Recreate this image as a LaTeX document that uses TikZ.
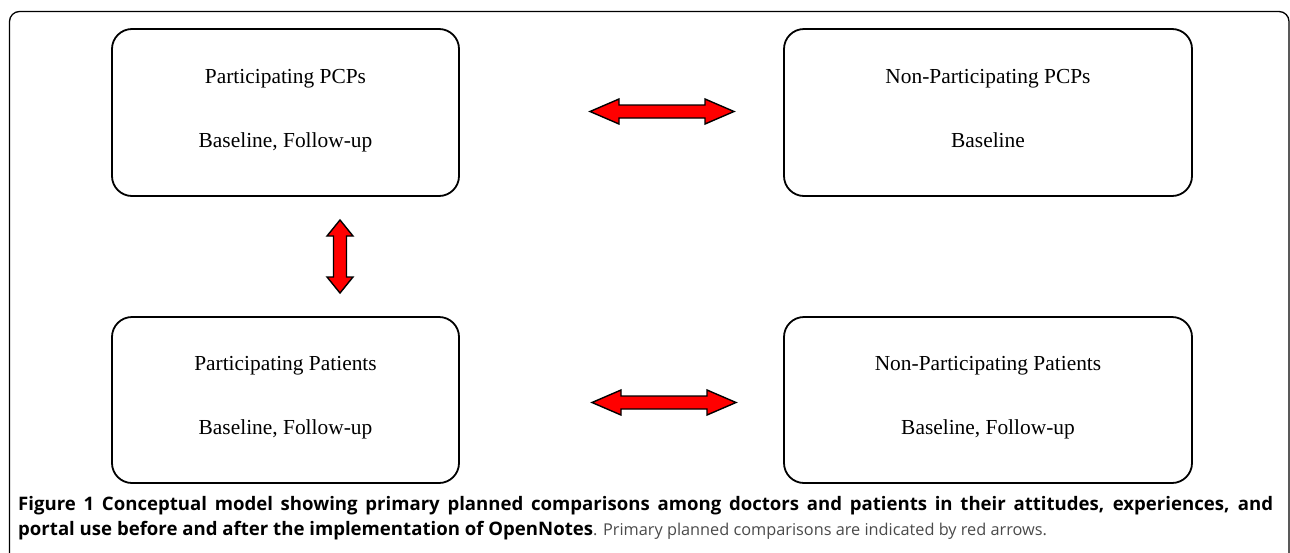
\documentclass[tikz,border=0pt]{standalone}
\usepackage{fontspec}
\setmainfont{Liberation Serif}
\newfontfamily\capfont{Open Sans}
\usetikzlibrary{calc}
\definecolor{capgray}{HTML}{4a4a4a}
\begin{document}
\begin{tikzpicture}[x=1pt,y=-1pt,
  box/.style={draw, line width=1.8pt, rounded corners=20pt, inner sep=0pt},
  lbl/.style={anchor=base, inner sep=0pt, font=\fontsize{21.4}{24}\selectfont},
  redarrow/.style={fill=red, draw=black, line width=1.4pt, line join=miter},
  outerframe/.style={draw, line width=1.3pt, rounded corners=10pt},
  capline/.style={anchor=base west, inner sep=0pt, font=\capfont\fontsize{18.6}{20}\selectfont}]
\useasboundingbox (0,0) rectangle (1290,552);
% outer frame
\draw[outerframe] (9.5,560) -- (9.5,11.5) -- (1289,11.5) -- (1289,560);
% boxes
\node[box, minimum width=347pt, minimum height=167pt] (tl) at (285.5,112.5) {};
\node[box, minimum width=408pt, minimum height=167pt] (tr) at (988,112.5) {};
\node[box, minimum width=347pt, minimum height=166pt] (bl) at (285.5,400) {};
\node[box, minimum width=408pt, minimum height=166pt] (br) at (988,400) {};
% labels
\node[lbl] (tl1) at ($(tl.center)+(0,-29.5)$) {Participating PCPs};
\node[lbl] (tl2) at ($(tl.center)+(0,34.5)$) {Baseline, Follow-up};
\node[lbl] (tr1) at ($(tr.center)+(0,-29.5)$) {Non-Participating PCPs};
\node[lbl] (tr2) at ($(tr.center)+(0,34.5)$) {Baseline};
\node[lbl] (bl1) at ($(bl.center)+(0,-30)$) {Participating Patients};
\node[lbl] (bl2) at ($(bl.center)+(0,34)$) {Baseline, Follow-up};
\node[lbl] (br1) at ($(br.center)+(0,-30)$) {Non-Participating Patients};
\node[lbl] (br2) at ($(br.center)+(0,34)$) {Baseline, Follow-up};
% arrow centres
\coordinate (hTop) at (662,111.5);
\coordinate (hBot) at (664,402.5);
\coordinate (vL) at (340,256.5);
\foreach \c in {hTop,hBot}{
  \draw[redarrow, shift={(\c)}] (-72,0) -- (-43,-12.5) -- (-43,-6.5) -- (43,-6.5) -- (43,-12.5) -- (72,0)
    -- (43,12.5) -- (43,6.5) -- (-43,6.5) -- (-43,12.5) -- cycle;
}
\draw[redarrow, shift={(vL)}] (0,-36.5) -- (13,-20.5) -- (6.5,-20.5) -- (6.5,20.5) -- (13,20.5) -- (0,36.5)
  -- (-13,20.5) -- (-6.5,20.5) -- (-6.5,-20.5) -- (-13,-20.5) -- cycle;
% caption
\node[capline] (c1) at (18,510.5) {\makebox[1255pt][s]{\bfseries Figure 1 Conceptual model showing primary planned comparisons among doctors and patients in their attitudes, experiences, and}};
\node[capline] (c2) at (18,535) {\textbf{portal use before and after the implementation of OpenNotes}\textcolor{capgray}{\fontsize{16.3}{20}\selectfont. Primary planned comparisons are indicated by red arrows.}};
\end{tikzpicture}
\end{document}
